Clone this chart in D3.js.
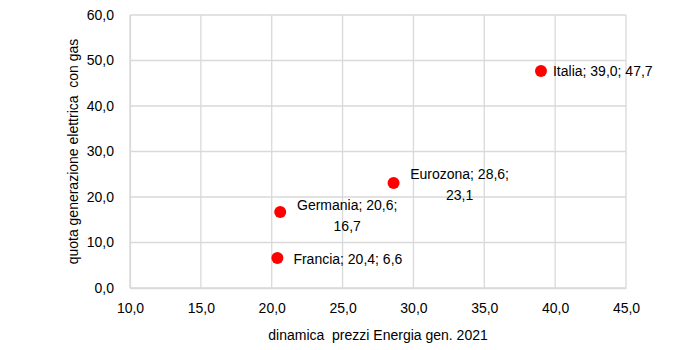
<!DOCTYPE html>
<html><head><meta charset="utf-8">
<script src="https://cdn.jsdelivr.net/npm/d3@7"></script>
<style>body{margin:0;background:#fff}text{font-family:"Liberation Sans",Arial,sans-serif}</style>
</head><body><svg id="c" width="700" height="350"></svg>
<script>
const countries = ["Italia", "Eurozona", "Germania", "Francia"];
const priceDyn = [39.0, 28.6, 20.6, 20.4];
const gasShare = [47.7, 23.1, 16.7, 6.6];
const labelLines = [["Italia; 39,0; 47,7"], ["Eurozona; 28,6;", "23,1"], ["Germania; 20,6;", "16,7"], ["Francia; 20,4; 6,6"]];
const xTicks = [10, 15, 20, 25, 30, 35, 40, 45];
const yTicks = [0, 10, 20, 30, 40, 50, 60];
const xTitle = "dinamica  prezzi Energia gen. 2021";
const yTitle = "quota generazione elettrica  con gas";

const svg = d3.select("#c");
const m = {l:130, r:74, t:15, b:62};
const W = 700, H = 350;
const x = d3.scaleLinear().domain([10,45]).range([m.l, W-m.r]);
const y = d3.scaleLinear().domain([0,60]).range([H-m.b, m.t]);
const fmt = v => d3.format(".1f")(v).replace(".", ",");
const grid = "#d9d9d9";

// grid
svg.append("g").selectAll("line").data(xTicks).join("line")
  .attr("x1", d=>x(d)).attr("x2", d=>x(d)).attr("y1", y(0)).attr("y2", y(60))
  .attr("stroke", grid).attr("stroke-width", 1.3);
svg.append("g").selectAll("line").data(yTicks).join("line")
  .attr("y1", d=>y(d)).attr("y2", d=>y(d)).attr("x1", x(10)).attr("x2", x(45))
  .attr("stroke", grid).attr("stroke-width", 1.3);

// axes
const xa = svg.append("g").attr("transform", `translate(0,${y(0)})`)
  .call(d3.axisBottom(x).tickValues(xTicks).tickFormat(fmt).tickSize(0).tickPadding(15));
const ya = svg.append("g").attr("transform", `translate(${x(10)},0)`)
  .call(d3.axisLeft(y).tickValues(yTicks).tickFormat(fmt).tickSize(0).tickPadding(16));
[xa, ya].forEach(a => {
  a.select(".domain").attr("stroke", grid).attr("stroke-width", 1.3);
  a.selectAll("text").attr("font-size", 14).attr("fill", "#000").attr("font-family", "Liberation Sans, Arial, sans-serif");
});

// titles
svg.append("text").attr("x", (x(10)+x(45))/2).attr("y", 340).attr("text-anchor", "middle")
  .attr("font-size", 14).style("white-space", "pre").text(xTitle);
svg.append("text").attr("transform", `translate(78,${(y(0)+y(60))/2}) rotate(-90)`)
  .attr("text-anchor", "middle").attr("font-size", 14).style("white-space", "pre").text(yTitle);

// points
const data = countries.map((c,i)=>({c, x:priceDyn[i], y:gasShare[i], lines:labelLines[i]}));
svg.append("g").selectAll("circle").data(data).join("circle")
  .attr("cx", d=>x(d.x)).attr("cy", d=>y(d.y)).attr("r", 6).attr("fill", "#ff0000");

// labels: offsets (dx for block center / start, dy for block center)
const lab = {
  "Italia": {dx: 12, dy: 0, anchor: "start"},
  "Eurozona": {dx: 66, dy: 2, anchor: "middle"},
  "Germania": {dx: 67, dy: 3, anchor: "middle"},
  "Francia": {dx: 16, dy: 1, anchor: "start"}
};
const lh = 21;
data.forEach(d => {
  const o = lab[d.c];
  const n = d.lines.length;
  const t = svg.append("text").attr("font-size", 14).attr("fill", "#000")
    .attr("text-anchor", o.anchor);
  d.lines.forEach((ln, i) => {
    t.append("tspan").attr("x", x(d.x)+o.dx)
      .attr("y", y(d.y)+o.dy + (i-(n-1)/2)*lh + 5).text(ln);
  });
});
</script></body></html>
